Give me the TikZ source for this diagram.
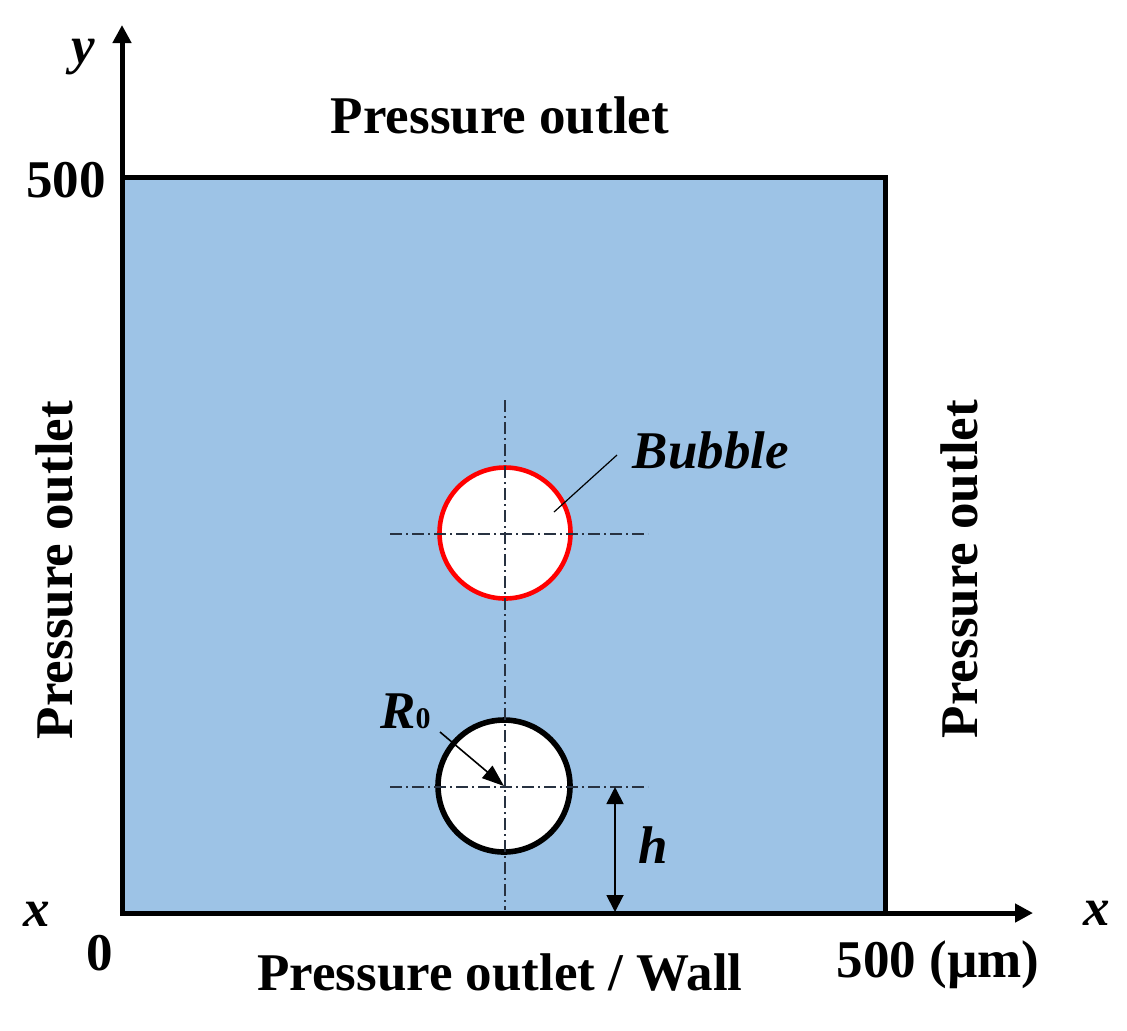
\documentclass[tikz,border=0pt]{standalone}
\usepackage{fontspec}
\setmainfont{Liberation Serif}
\usetikzlibrary{arrows.meta}

\definecolor{fluid}{RGB}{157,195,230}
\definecolor{cline}{RGB}{40,50,65}
\tikzset{
  lbl/.style={font=\fontsize{26.5}{30}\selectfont\bfseries, inner sep=0pt},
  ilbl/.style={font=\fontsize{26.5}{30}\selectfont\bfseries\itshape, inner sep=0pt},
  axis/.style={line width=2.5pt, -{Triangle[length=9pt,width=9pt]}},
  centerline/.style={cline, line width=0.75pt, dash pattern=on 6pt off 2pt on 1pt off 2pt},
  bubble/.style={circle, draw, fill=white, inner sep=0pt},
}

\begin{document}
\begin{tikzpicture}[x=0.5pt,y=-0.5pt]
    \useasboundingbox (0,0) rectangle (1127,1030);

    \coordinate (O) at (122,913);
    \coordinate (A) at (885,177);
    \coordinate (ytip) at (122,25);
    \coordinate (xtip) at (1033,913);

    \draw [line width=2.5pt,fill=fluid] (O) rectangle (A);
    \draw [axis] (O)--(ytip);
    \draw [axis] (O)--(xtip);

    \node [bubble,draw=red,line width=2.3pt,minimum size=65.5pt] (top) at (505,533) {};
    \node [bubble,draw=black,line width=2.8pt,minimum size=66pt] (low) at (504,786) {};

    \coordinate (vtop) at (505,400);
    \coordinate (vbot) at (505,910);
    \coordinate (tl) at (390,534);
    \coordinate (tr) at (648,534);
    \coordinate (ll) at (390,787);
    \coordinate (lr) at (648,787);
    \draw [centerline] (vtop)--(vbot);
    \draw [centerline] (tl)--(tr);
    \draw [centerline] (ll)--(lr);

    \node [ilbl,anchor=base] (bub) at (711,468) {Bubble};
    \coordinate (bubin) at (554,512);
    \coordinate (bubout) at (617,455);
    \draw [line width=0.6pt] (bubin)--(bubout);

    \node [ilbl,anchor=base east] (r0) at (431,728) {R{\upshape\fontsize{15}{18}\selectfont 0}};
    \coordinate (r0start) at (440,732);
    \draw [line width=0.8pt,-{Triangle[length=11pt,width=8pt]}] (r0start)--(low.center);

    \coordinate (htop) at (615,787);
    \coordinate (hbot) at (615,912);
    \draw [line width=0.9pt,{Triangle[length=8.5pt,width=8.5pt]}-{Triangle[length=8.5pt,width=8.5pt]}] (htop)--(hbot);
    \node [ilbl,anchor=base] (h) at (653,863) {h};

    \node [lbl,anchor=base] (ptop) at (500,133) {Pressure outlet};
    \node [lbl,anchor=base] (pbot) at (500,990) {Pressure outlet / Wall};
    \node [lbl,anchor=base,rotate=90] (pleft) at (72,570) {Pressure outlet};
    \node [lbl,anchor=base,rotate=90] (pright) at (977,569) {Pressure outlet};

    \node [ilbl,anchor=base] (ylab) at (83,63) {y};
    \node [lbl,anchor=base] (y500) at (66,197) {500};
    \node [ilbl,anchor=base] (xleft) at (37,926) {x};
    \node [lbl,anchor=base] (zero) at (100,970) {0};
    \node [lbl,anchor=base] (x500) at (938,977) {500 (µm)};
    \node [ilbl,anchor=base] (xright) at (1097,925) {x};
\end{tikzpicture}
\end{document}
